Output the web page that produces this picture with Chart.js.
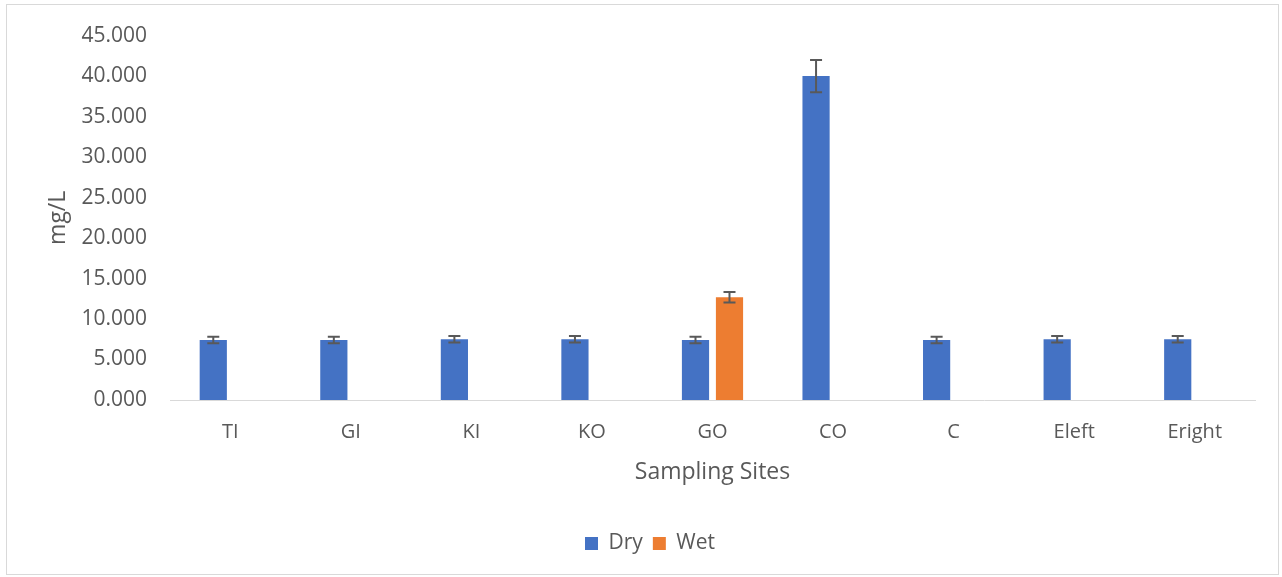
<!DOCTYPE html>
<html>
<head>
<meta charset="utf-8">
<script src="https://cdn.jsdelivr.net/npm/chart.js@4"></script>
<style>
  html, body { margin: 0; padding: 0; background: #fff; }
  #wrap { position: absolute; left: 0; top: 0; width: 1282px; height: 577px; }
  #frame { position: absolute; left: 6px; top: 4px; width: 1271px; height: 569px; border: 1px solid #d9d9d9; pointer-events: none; }
</style>
</head>
<body>
<div id="wrap"><canvas id="c" width="1282" height="577"></canvas></div>
<div id="frame"></div>
<script>
const categories = ["TI", "GI", "KI", "KO", "GO", "CO", "C", "Eleft", "Eright"];
const dryValues = [7.40, 7.40, 7.50, 7.50, 7.40, 40.0, 7.40, 7.50, 7.50];
const dryErrors = [0.40, 0.40, 0.40, 0.40, 0.40, 2.00, 0.40, 0.40, 0.40];
const wetValues = [null, null, null, null, 12.7, null, null, null, null];
const wetErrors = [null, null, null, null, 0.65, null, null, null, null];
const yTicks = [0, 5, 10, 15, 20, 25, 30, 35, 40, 45];

const errorBarPlugin = {
  id: 'errorBars',
  afterDatasetsDraw(chart) {
    const ctx = chart.ctx;
    const y = chart.scales.y;
    chart.data.datasets.forEach((ds, di) => {
      if (!ds.errors) return;
      const meta = chart.getDatasetMeta(di);
      meta.data.forEach((bar, i) => {
        const v = ds.data[i], e = ds.errors[i];
        if (v == null || e == null) return;
        const x = bar.x;
        const yt = y.getPixelForValue(v + e);
        const yb = y.getPixelForValue(v - e);
        ctx.save();
        ctx.strokeStyle = '#595959';
        ctx.lineWidth = 2;
        ctx.beginPath();
        ctx.moveTo(x, yt); ctx.lineTo(x, yb);
        ctx.moveTo(x - 6, yt); ctx.lineTo(x + 6, yt);
        ctx.moveTo(x - 6, yb); ctx.lineTo(x + 6, yb);
        ctx.stroke();
        ctx.restore();
      });
    });
  }
};

const font = "'Open Sans', 'Noto Sans', sans-serif";
new Chart(document.getElementById('c'), {
  type: 'bar',
  data: {
    labels: categories,
    datasets: [
      { label: 'Dry', data: dryValues, errors: dryErrors, backgroundColor: '#4472C4' },
      { label: 'Wet', data: wetValues, errors: wetErrors, backgroundColor: '#ED7D31' }
    ]
  },
  options: {
    responsive: false,
    animation: false,
    categoryPercentage: 0.564,
    barPercentage: 0.8,
    layout: { padding: { top: 33, right: 27, bottom: 13, left: 45 } },
    plugins: {
      legend: {
        position: 'bottom',
        labels: { boxWidth: 13, boxHeight: 13, padding: 10, color: '#595959', font: { family: font, size: 21 } }
      },
      tooltip: { enabled: false }
    },
    scales: {
      x: {
        afterFit(scale) { scale.height = 123; },
        grid: { display: false, drawTicks: false },
        border: { display: true, color: '#d9d9d9', width: 1 },
        ticks: { color: '#595959', padding: 20, font: { family: font, size: 20 } },
        title: { display: true, text: 'Sampling Sites', color: '#595959', font: { family: font, size: 23 }, padding: { top: 0, bottom: 37 } }
      },
      y: {
        min: 0, max: 45,
        afterBuildTicks(scale) { scale.ticks = yTicks.map(v => ({ value: v })); },
        afterFit(scale) { scale.width = 125; },
        grid: { display: false, drawTicks: false },
        border: { display: false },
        ticks: { color: '#595959', padding: 23, font: { family: font, size: 21 }, callback: v => Number(v).toFixed(3) },
        title: { display: true, text: 'mg/L', color: '#595959', font: { family: font, size: 23 }, padding: { top: 0, bottom: 0 } }
      }
    }
  },
  plugins: [errorBarPlugin]
});
</script>
</body>
</html>
